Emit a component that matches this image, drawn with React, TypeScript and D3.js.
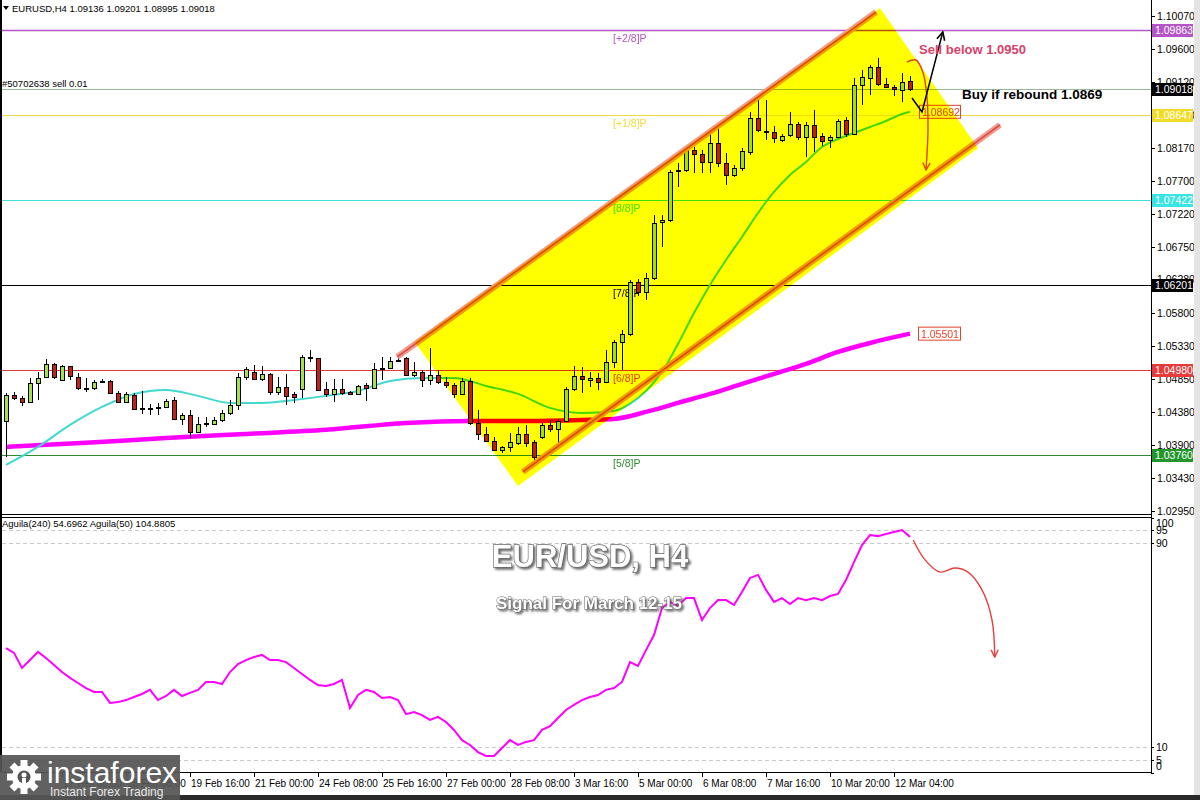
import React from "react";
import * as d3 from "d3";

// EURUSD H4 candles, bar 0 .. 113
const opens = [
  1.04246, 1.0462, 1.04577, 1.04519, 1.04792, 1.04879, 1.05066, 1.04836, 1.05037, 1.04879,
  1.04721, 1.04721, 1.04807, 1.04821, 1.04649, 1.04519, 1.0462, 1.04433, 1.04433, 1.04447,
  1.04447, 1.04548, 1.04275, 1.04332, 1.04088, 1.04217, 1.04203, 1.0426, 1.04361, 1.04476,
  1.04879, 1.04951, 1.0485, 1.04922, 1.04663, 1.04735, 1.04634, 1.04706, 1.05166, 1.05152,
  1.04706, 1.04634, 1.04706, 1.04663, 1.04634, 1.04764, 1.04721, 1.04994, 1.05008, 1.05123,
  1.05152, 1.04908, 1.04951, 1.04836, 1.04908, 1.04807, 1.04764, 1.04634, 1.04821, 1.04217,
  1.04059, 1.03958, 1.03829, 1.03872, 1.0393, 1.04059, 1.03944, 1.04016, 1.04188, 1.04131,
  1.04246, 1.04706, 1.04893, 1.04836, 1.04864, 1.04807, 1.05094, 1.05382, 1.05497, 1.06245,
  1.06101, 1.06302, 1.07108, 1.07136, 1.07841, 1.07855, 1.08143, 1.08085, 1.0797, 1.08244,
  1.07956, 1.07784, 1.07884, 1.08114, 1.08603, 1.08416, 1.08402, 1.08287, 1.08359, 1.08517,
  1.0833, 1.08503, 1.08344, 1.08287, 1.0833, 1.08574, 1.08373, 1.09078, 1.09178, 1.09337,
  1.09092, 1.09049, 1.09006, 1.09136,
];
const highs = [
  1.04649, 1.04663, 1.04606, 1.04864, 1.04951, 1.05138, 1.0508, 1.05051, 1.05037, 1.04936,
  1.04864, 1.04836, 1.0485, 1.04836, 1.04677, 1.04663, 1.04649, 1.04677, 1.0449, 1.04505,
  1.04562, 1.04591, 1.04361, 1.04404, 1.04303, 1.04303, 1.04303, 1.04404, 1.04548, 1.04936,
  1.05023, 1.05051, 1.05037, 1.04936, 1.04879, 1.04922, 1.04663, 1.05195, 1.05267, 1.05152,
  1.04807, 1.0485, 1.0485, 1.04677, 1.04764, 1.04792, 1.0508, 1.05166, 1.05166, 1.05224,
  1.05166, 1.05094, 1.04979, 1.05296, 1.04979, 1.04879, 1.04792, 1.04864, 1.04864, 1.04404,
  1.0416, 1.04016, 1.03886, 1.04073, 1.0416, 1.04188, 1.03973, 1.04217, 1.0426, 1.04275,
  1.04735, 1.05037, 1.05023, 1.04951, 1.04936, 1.05267, 1.05411, 1.05555, 1.06274, 1.06288,
  1.06374, 1.07208, 1.07208, 1.07855, 1.07956, 1.08186, 1.08186, 1.08143, 1.08431, 1.08531,
  1.081, 1.07927, 1.08172, 1.0869, 1.08862, 1.08862, 1.08488, 1.08373, 1.0869, 1.08546,
  1.08546, 1.08718, 1.08387, 1.08359, 1.08589, 1.08618, 1.09178, 1.09293, 1.09365, 1.09466,
  1.09178, 1.09078, 1.0925, 1.09201,
];
const lows = [
  1.03728, 1.04548, 1.04462, 1.04505, 1.04548, 1.04864, 1.0485, 1.04821, 1.04836, 1.04692,
  1.04663, 1.04692, 1.04792, 1.04634, 1.04505, 1.04505, 1.04404, 1.04347, 1.04332, 1.04332,
  1.04433, 1.0426, 1.04188, 1.04001, 1.04073, 1.0416, 1.04188, 1.04232, 1.04332, 1.04404,
  1.04836, 1.04836, 1.04821, 1.0462, 1.0462, 1.04476, 1.04505, 1.04577, 1.05094, 1.04677,
  1.04591, 1.04519, 1.0462, 1.0462, 1.0462, 1.04534, 1.04706, 1.04836, 1.04994, 1.05094,
  1.04893, 1.04879, 1.04735, 1.04764, 1.04778, 1.04721, 1.04577, 1.0462, 1.04188, 1.03973,
  1.03944, 1.03815, 1.03786, 1.038, 1.03901, 1.03872, 1.03627, 1.03987, 1.04088, 1.03872,
  1.04232, 1.04677, 1.04649, 1.04735, 1.04692, 1.04792, 1.05008, 1.04979, 1.05468, 1.06044,
  1.05986, 1.06274, 1.06748, 1.07108, 1.07611, 1.07827, 1.07812, 1.07812, 1.07812, 1.07899,
  1.0764, 1.07755, 1.07841, 1.08071, 1.08402, 1.08287, 1.08244, 1.08258, 1.0833, 1.08287,
  1.08042, 1.08114, 1.08201, 1.08172, 1.08316, 1.0833, 1.08359, 1.0879, 1.08934, 1.09063,
  1.09035, 1.0892, 1.08833, 1.08995,
];
const closes = [
  1.0462, 1.04577, 1.04519, 1.04792, 1.04864, 1.05066, 1.04879, 1.05037, 1.04893, 1.04721,
  1.04706, 1.04807, 1.04821, 1.04649, 1.04519, 1.04634, 1.04419, 1.04419, 1.04433, 1.04447,
  1.04534, 1.04275, 1.04332, 1.04088, 1.04203, 1.04217, 1.0426, 1.04361, 1.04476, 1.04879,
  1.04994, 1.0485, 1.04922, 1.04663, 1.04735, 1.04606, 1.04591, 1.05166, 1.05152, 1.04692,
  1.04634, 1.04706, 1.04649, 1.04634, 1.04749, 1.04721, 1.04994, 1.05008, 1.05109, 1.05123,
  1.04908, 1.04951, 1.04836, 1.04908, 1.04807, 1.04764, 1.04634, 1.04821, 1.04217, 1.04059,
  1.03958, 1.03829, 1.03872, 1.03944, 1.04059, 1.0393, 1.03728, 1.04188, 1.04131, 1.04246,
  1.04706, 1.04893, 1.0485, 1.04864, 1.04807, 1.05094, 1.05382, 1.05497, 1.06245, 1.06101,
  1.06302, 1.07093, 1.07136, 1.07827, 1.07855, 1.08143, 1.08085, 1.0797, 1.08244, 1.07956,
  1.07784, 1.07884, 1.08129, 1.08603, 1.08431, 1.0841, 1.08316, 1.08344, 1.08517, 1.0833,
  1.08503, 1.0833, 1.08272, 1.0833, 1.0856, 1.08373, 1.09078, 1.09193, 1.09337, 1.09092,
  1.09049, 1.0902, 1.09121, 1.09018,
];

// moving averages (read at selected bars)
const slowMaBars = [0, 10, 20, 30, 40, 50, 58, 65, 72, 76, 80, 84, 88, 92, 96, 100, 104, 108, 113];
const slowMa = [
  1.03872, 1.0393, 1.04001, 1.04059, 1.04117, 1.04217, 1.04246, 1.04246, 1.0426, 1.04275,
  1.04375, 1.04505, 1.04634, 1.04778, 1.04922, 1.05066, 1.05238, 1.05367, 1.05501,
];
const fastMaBars = [
  0, 4, 8, 12, 16, 20, 24, 28, 32, 36, 40, 44, 48, 52, 56, 60, 64, 68, 72, 76,
  78, 80, 82, 84, 86, 88, 90, 92, 94, 96, 98, 100, 102, 104, 106, 108, 110, 112, 113,
];
const fastMa = [
  1.03613, 1.03872, 1.04188, 1.04447, 1.04634, 1.04692, 1.04606, 1.04505, 1.04505, 1.04548,
  1.04606, 1.04677, 1.04821, 1.04864, 1.04864, 1.04749, 1.04634, 1.04433, 1.04361, 1.0439,
  1.0449, 1.04677, 1.04951, 1.05353, 1.05799, 1.06202, 1.06561, 1.06892, 1.07237, 1.07539,
  1.07784, 1.0797, 1.08186, 1.08301, 1.08387, 1.08474, 1.0856, 1.08661, 1.08692,
];

// oscillator (lower panel), one value per bar
const oscValues = [
  48.8, 46.9, 41.0, 44.1, 47.3, 44.9, 42.2, 39.4, 37.1, 35.1,
  33.1, 31.6, 31.6, 27.3, 27.6, 28.4, 29.6, 30.8, 32.4, 28.4,
  30.0, 32.4, 30.0, 31.2, 32.4, 35.5, 35.5, 34.7, 39.4, 42.5,
  44.1, 45.3, 46.1, 44.1, 44.1, 43.3, 41.0, 38.6, 36.3, 34.3,
  33.9, 34.7, 36.3, 25.3, 30.4, 32.4, 31.6, 29.2, 29.6, 28.4,
  22.9, 23.7, 22.5, 20.6, 21.8, 19.8, 16.7, 12.7, 10.8, 8.0,
  6.5, 6.5, 9.6, 12.7, 10.8, 12.0, 12.7, 16.7, 18.2, 21.4,
  24.5, 26.5, 28.4, 29.6, 30.4, 32.4, 33.1, 35.5, 43.3, 41.8,
  48.0, 53.9, 64.5, 66.9, 65.3, 68.4, 68.4, 59.8, 64.5, 67.6,
  67.6, 65.7, 70.8, 76.3, 77.5, 71.6, 66.9, 68.4, 66.1, 68.4,
  67.6, 68.4, 67.6, 69.2, 70.0, 75.5, 82.5, 89.2, 93.1, 92.7,
  93.5, 94.3, 95.1, 92.4,
];
const oscLevels = [100, 95, 90, 10, 5, 0];
const oscDashed = [95, 90, 10, 5];

// murrey levels
const levelValues = [1.09863, 1.08647, 1.07422, 1.06201, 1.0498, 1.0376];
const levelNames = ["[+2/8]P", "[+1/8]P", "[8/8]P", "[7/8]P", "[6/8]P", "[5/8]P"];
const levelColors = ["#b455c8", "#f0dc3c", "#3ee0e0", "#000000", "#e03a3a", "#2e8b2e"];

const priceTicks = [
  1.1007, 1.096, 1.0912, 1.0865, 1.0817, 1.077, 1.0722, 1.0675, 1.0628, 1.058, 1.0533,
  1.0485, 1.0438, 1.039, 1.0343, 1.0295,
];
const currentPrice = 1.09018;
const axisBoxValues = [1.09863, 1.09018, 1.08647, 1.07422, 1.06201, 1.0498, 1.0376];
const axisBoxColors = ["#b455c8", "#000000", "#f0dc28", "#38e4e4", "#000000", "#e83a3a", "#22962a"];

const timeLabels = [
  "17 Feb 00:00", "18 Feb 08:00", "19 Feb 16:00", "21 Feb 00:00", "24 Feb 08:00", "25 Feb 16:00",
  "27 Feb 00:00", "28 Feb 08:00", "3 Mar 16:00", "5 Mar 00:00", "6 Mar 08:00", "7 Mar 16:00",
  "10 Mar 20:00", "12 Mar 04:00",
];
const timeLabelBars = [7, 15, 23, 31, 39, 47, 55, 63, 71, 79, 87, 95, 103, 111];

// drawn objects: [bar, price]
const channelUpper: [number, number][] = [[48.9, 1.05166], [108.75, 1.10127]];
const channelLower: [number, number][] = [[64.6, 1.03513], [124.25, 1.08503]];
const channelBox: [number, number][] = [[51.1, 1.05382], [109.25, 1.10185], [121.5, 1.08172], [64.0, 1.03311]];
const sellArc: [number, number][] = [[112.6, 1.09408], [113.75, 1.09437], [114.6, 1.09265], [115.1, 1.08934], [115.25, 1.08431], [115.0, 1.07855]];
const buyArrow: [number, number][] = [[113.25, 1.08891], [114.5, 1.0869], [117.1, 1.0984]];
const oscArc: [number, number][] = [[113.4, 91.2], [114.9, 83.3], [116.75, 78.6], [118.6, 80.2], [120.25, 78.6], [122.0, 71.6], [123.25, 59.8], [123.6, 45.3]];

const FONT = "'Liberation Sans', Arial, sans-serif";

export default function App() {
  const x = d3.scaleLinear().domain([0, 113]).range([6, 910]);
  const y = d3.scaleLinear().domain([1.0295, 1.1007]).range([511, 16]);
  const yo = d3.scaleLinear().domain([0, 100]).range([772.5, 517.5]);

  const pLine = d3.line<[number, number]>().x(d => x(d[0])).y(d => y(d[1]));
  const pCurve = d3.line<[number, number]>().x(d => x(d[0])).y(d => y(d[1])).curve(d3.curveCatmullRom);
  const oCurve = d3.line<[number, number]>().x(d => x(d[0])).y(d => yo(d[1])).curve(d3.curveCatmullRom);

  const slowPath = d3.line<number>().x((_, i) => x(slowMaBars[i])).y(d => y(d)).curve(d3.curveMonotoneX)(slowMa);
  const fastPath = d3.line<number>().x((_, i) => x(fastMaBars[i])).y(d => y(d)).curve(d3.curveMonotoneX)(fastMa);
  const oscPath = d3.line<number>().x((_, i) => x(i)).y(d => yo(d))(oscValues);

  const L = 2, R = 1151;

  return (
    <div style={{ position: "fixed", left: 0, top: 0 }}>
      <svg width={1200} height={800} style={{ display: "block" }}>
        <defs>
          <clipPath id="mainClip"><rect x={L} y={0} width={R - L} height={514} /></clipPath>
          <clipPath id="oscClip"><rect x={L} y={518} width={R - L} height={254} /></clipPath>
          <filter id="shadow" x="-10%" y="-40%" width="130%" height="190%">
            <feDropShadow dx="2" dy="2" stdDeviation="1.3" floodColor="#555" floodOpacity="0.85" />
          </filter>
          <marker id="arrRed" viewBox="0 0 10 10" refX="9" refY="5" markerWidth="9" markerHeight="9" markerUnits="userSpaceOnUse" orient="auto">
            <path d="M1,1 L9,5 L1,9" fill="none" stroke="#e0402c" strokeWidth="1.6" />
          </marker>
          <marker id="arrBlack" viewBox="0 0 10 10" refX="9" refY="5" markerWidth="10" markerHeight="10" markerUnits="userSpaceOnUse" orient="auto">
            <path d="M1,1 L9,5 L1,9" fill="none" stroke="#000" strokeWidth="1.6" />
          </marker>
          <marker id="arrRed2" viewBox="0 0 10 10" refX="9" refY="5" markerWidth="9" markerHeight="9" markerUnits="userSpaceOnUse" orient="auto">
            <path d="M1,1 L9,5 L1,9" fill="none" stroke="#e8403c" strokeWidth="1.6" />
          </marker>
        </defs>

        <rect x={0} y={0} width={1200} height={800} fill="#fff" />

        {/* main panel */}
        <g clipPath="url(#mainClip)">
          {levelValues.map((v, i) => (
            <line key={"lv" + i} x1={L} x2={R} y1={Math.round(y(v)) + 0.5} y2={Math.round(y(v)) + 0.5}
              stroke={levelColors[i]} strokeWidth={i === 0 ? 1.6 : 1} />
          ))}
          <line x1={L} x2={R} y1={Math.round(y(currentPrice)) + 0.5} y2={Math.round(y(currentPrice)) + 0.5} stroke="#96b896" strokeWidth={1} />
          {levelValues.map((v, i) => (
            <text key={"ln" + i} x={613} y={y(v) + 12} fontFamily={FONT} fontSize={10.5} fill={levelColors[i]}>{levelNames[i]}</text>
          ))}

          <path d={slowPath || ""} fill="none" stroke="#ff00ff" strokeWidth={4.5} />
          <path d={fastPath || ""} fill="none" stroke="#40d8d0" strokeWidth={2} />

          {opens.map((o, i) => {
            const c = closes[i];
            const cx = Math.round(x(i));
            const top = Math.round(y(Math.max(o, c)));
            const bot = Math.round(y(Math.min(o, c)));
            const up = c >= o;
            return (
              <g key={"c" + i}>
                <line x1={cx + 0.5} x2={cx + 0.5} y1={Math.round(y(highs[i]))} y2={Math.round(y(lows[i]))} stroke="#000" strokeWidth={1} />
                <rect x={cx - 2 + 0.5} y={top + 0.5} width={4} height={Math.max(bot - top, 1)}
                  fill={up ? "#a6e04a" : "#c4201c"} stroke="#000" strokeWidth={1} />
              </g>
            );
          })}

          {/* channel lines */}
          {[channelUpper, channelLower].map((seg, i) => (
            <g key={"ch" + i}>
              <path d={pLine(seg) || ""} stroke="#f29a8e" strokeWidth={6} fill="none" />
              <path d={pLine(seg) || ""} stroke="#d84a44" strokeWidth={1.5} fill="none" />
            </g>
          ))}

          {/* labels on chart */}
          <rect x={919.5} y={y(1.08692) - 6.5} width={41} height={13} fill="none" stroke="#e0442c" strokeWidth={1} />
          <text x={922} y={y(1.08692) + 4} fontFamily={FONT} fontSize={10.5} fill="#e0442c">1.08692</text>
          <rect x={918.5} y={y(1.05501) - 6.5} width={42} height={13} fill="#fff" stroke="#e0442c" strokeWidth={1} />
          <text x={921} y={y(1.05501) + 4} fontFamily={FONT} fontSize={10.5} fill="#e0442c">1.05501</text>

          <path d={pCurve(sellArc) || ""} fill="none" stroke="#e0402c" strokeWidth={1.4} markerEnd="url(#arrRed)" />

          {/* yellow channel, multiplied onto everything below */}
          <polygon points={channelBox.map(d => `${x(d[0])},${y(d[1])}`).join(" ")} fill="#ffff00" style={{ mixBlendMode: "multiply" }} />

          <path d={pLine(buyArrow) || ""} fill="none" stroke="#000" strokeWidth={1.5} markerEnd="url(#arrBlack)" />
        </g>

        <text x={12} y={12} fontFamily={FONT} fontSize={9.5} fill="#000">EURUSD,H4  1.09136 1.09201 1.08995 1.09018</text>
        <path d="M3,6 L9,6 L6,10 Z" fill="#000" />
        <text x={2} y={87} fontFamily={FONT} fontSize={9.5} fill="#000">#50702638 sell 0.01</text>

        <text x={919} y={54} fontFamily={FONT} fontSize={13} fontWeight="bold" fill="#d8416a">Sell below 1.0950</text>
        <text x={962} y={99} fontFamily={FONT} fontSize={13.5} fontWeight="bold" fill="#000">Buy if rebound 1.0869</text>

        {/* oscillator panel */}
        {oscDashed.map(v => (
          <line key={"od" + v} x1={L} x2={R} y1={Math.round(yo(v)) + 0.5} y2={Math.round(yo(v)) + 0.5}
            stroke="#c8c8c8" strokeDasharray="4,3" />
        ))}
        <g clipPath="url(#oscClip)">
          <path d={oscPath || ""} fill="none" stroke="#ff00ff" strokeWidth={2} />
        </g>
        <path d={oCurve(oscArc) || ""} fill="none" stroke="#e8403c" strokeWidth={1.4} markerEnd="url(#arrRed2)" />
        <text x={2} y={527} fontFamily={FONT} fontSize={9.5} fill="#000">Aguila(240) 54.6962   Aguila(50) 104.8805</text>

        <text x={590} y={567} textAnchor="middle" fontFamily={FONT} fontSize={31} fontWeight="bold"
          fill="#fff" stroke="#6a6a6a" strokeWidth={1.3} paintOrder="stroke" filter="url(#shadow)">EUR/USD, H4</text>
        <text x={589} y={609} textAnchor="middle" fontFamily={FONT} fontSize={17} fontWeight="bold"
          fill="#fff" stroke="#6a6a6a" strokeWidth={1} paintOrder="stroke" filter="url(#shadow)">Signal For March 12-15</text>

        {/* frames */}
        <rect x={0} y={0} width={2} height={772} fill="#000" />
        <line x1={L} x2={R} y1={514.5} y2={514.5} stroke="#000" />
        <line x1={L} x2={R} y1={517.5} y2={517.5} stroke="#000" />
        <line x1={L} x2={R + 0.5} y1={772.5} y2={772.5} stroke="#000" />
        <line x1={R + 0.5} x2={R + 0.5} y1={0} y2={773} stroke="#000" />

        {/* price axis */}
        {priceTicks.map(v => (
          <g key={"pt" + v}>
            <line x1={R} x2={R + 4} y1={Math.round(y(v)) + 0.5} y2={Math.round(y(v)) + 0.5} stroke="#000" />
            <text x={1157} y={y(v) + 4} fontFamily={FONT} fontSize={10.5} fill="#000">{v.toFixed(5)}</text>
          </g>
        ))}
        {axisBoxValues.map((v, i) => (
          <g key={"ab" + i}>
            <rect x={1152} y={Math.round(y(v)) - 6} width={41} height={13} fill={axisBoxColors[i]} />
            <text x={1155} y={y(v) + 4} fontFamily={FONT} fontSize={10.5} fill="#fff">{v.toFixed(5)}</text>
          </g>
        ))}

        {/* oscillator axis */}
        {oscLevels.map(v => (
          <g key={"ol" + v}>
            <line x1={R} x2={R + 3} y1={Math.round(yo(v)) + 0.5} y2={Math.round(yo(v)) + 0.5} stroke="#000" />
            <text x={1156} y={Math.min(Math.max(yo(v) + 4, 527), 770)} fontFamily={FONT} fontSize={10.5} fill="#000">{v}</text>
          </g>
        ))}

        {/* time axis */}
        {timeLabels.map((t, i) => (
          <g key={"tl" + i}>
            <line x1={Math.round(x(timeLabelBars[i])) + 0.5} x2={Math.round(x(timeLabelBars[i])) + 0.5} y1={773} y2={777} stroke="#000" />
            <text x={x(timeLabelBars[i]) + 1} y={787} fontFamily={FONT} fontSize={10} fill="#000">{t}</text>
          </g>
        ))}

        <rect x={1194} y={0} width={6} height={800} fill="#e4e4e4" />
        <rect x={0} y={795} width={1200} height={5} fill="#2a2a2a" />

        {/* logo */}
        <g>
          <rect x={0} y={755} width={180} height={45} fill="#555" opacity={0.93} />
          <g transform="translate(24,777)">
            {d3.range(8).map(k => (
              <rect key={"tooth" + k} x={-3.5} y={-17} width={7} height={8} fill="#fff"
                transform={`rotate(${k * 45})`} />
            ))}
            <circle r={12} fill="#fff" />
            <circle r={6.5} fill="#555" />
            <circle cy={-2} r={2.5} fill="#fff" />
            <rect x={-2} y={1} width={4} height={7} fill="#fff" />
          </g>
          <text x={47} y={783} fontFamily={FONT} fontSize={30} fill="#fff">instaforex</text>
          <text x={50} y={796} fontFamily={FONT} fontSize={12} fill="#e8e8e8">Instant Forex Trading</text>
        </g>
      </svg>
    </div>
  );
}
